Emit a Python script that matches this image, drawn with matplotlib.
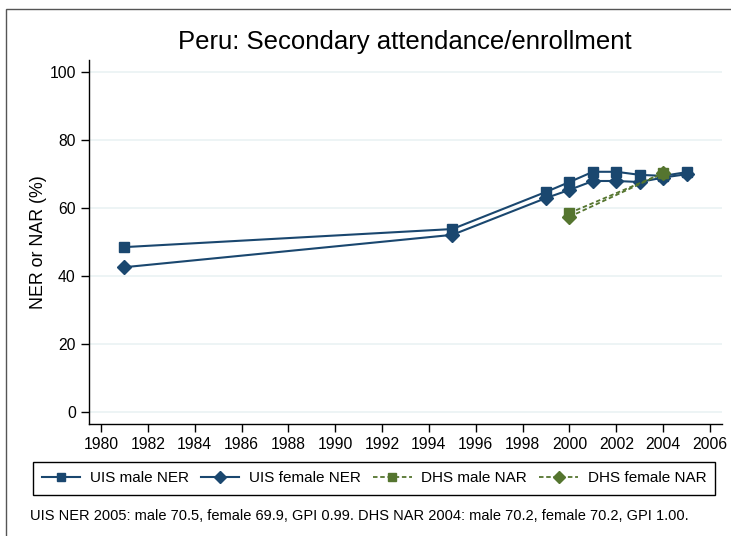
import matplotlib
matplotlib.use('Agg')
import matplotlib.pyplot as plt
from matplotlib.patches import Rectangle

matplotlib.rcParams['font.family'] = ['Liberation Sans', 'DejaVu Sans']

# data
uis_years = [1981, 1995, 1999, 2000, 2001, 2002, 2003, 2004, 2005]
uis_male = [48.5, 53.8, 64.7, 67.6, 70.6, 70.6, 69.7, 69.4, 70.5]
uis_female = [42.6, 52.1, 62.9, 65.3, 67.9, 67.9, 67.6, 68.9, 69.9]

dhs_years = [2000, 2004]
dhs_male = [58.5, 70.2]
dhs_female = [57.4, 70.2]

x_ticks = list(range(1980, 2007, 2))
y_ticks = [0, 20, 40, 60, 80, 100]

navy = '#1a476f'
green = '#55752f'

fig = plt.figure(figsize=(7.31, 5.36), dpi=100)
ax = fig.add_axes([89 / 731, 1 - 424 / 536, 633 / 731, 364 / 536])

# outer frame (only top/left visible in the original)
fig.patches.append(Rectangle((6 / 731, -0.05), 1.1, 1 - 9 / 536 + 0.05,
                             transform=fig.transFigure, fill=False,
                             edgecolor='#555555', linewidth=1.0))

ax.plot(uis_years, uis_male, color=navy, lw=1.5, marker='s', ms=7.5,
        label='UIS male NER')
ax.plot(uis_years, uis_female, color=navy, lw=1.5, marker='D', ms=7.5,
        label='UIS female NER')
ax.plot(dhs_years, dhs_male, color=green, lw=1.3, ls=(0, (2.5, 1.5)),
        marker='s', ms=7.5, label='DHS male NAR')
ax.plot(dhs_years, dhs_female, color=green, lw=1.3, ls=(0, (2.5, 1.5)),
        marker='D', ms=7.5, label='DHS female NAR')

ax.set_xlim(1979.49, 2006.51)
ax.set_ylim(-3.4, 103.4)
ax.set_xticks(x_ticks)
ax.set_yticks(y_ticks)
ax.tick_params(labelsize=11.3, length=6, width=1, colors='black')
ax.grid(axis='y', color='#eaf2f3', lw=1.2)
ax.set_axisbelow(True)
for s in ['top', 'right']:
    ax.spines[s].set_visible(False)
for s in ['left', 'bottom']:
    ax.spines[s].set_linewidth(1.0)

ax.set_ylabel('NER or NAR (%)', fontsize=12.8, labelpad=2)
fig.text(405 / 731, 1 - 42 / 536, 'Peru: Secondary attendance/enrollment',
         ha='center', va='center', fontsize=18.5)

leg = fig.legend(loc='center', ncol=4,
                 bbox_to_anchor=(374 / 731, 1 - 478.5 / 536),
                 fontsize=11, numpoints=1, handlelength=2.5,
                 markerscale=0.85,
                 fancybox=False, edgecolor='black', framealpha=1,
                 borderaxespad=0, borderpad=0.6, columnspacing=0.8,
                 handletextpad=0.65)
leg.get_frame().set_linewidth(1.0)

fig.text(30 / 731, 1 - 516 / 536,
         'UIS NER 2005: male 70.5, female 69.9, GPI 0.99. DHS NAR 2004: male 70.2, female 70.2, GPI 1.00.',
         ha='left', va='center', fontsize=10.5)

fig.savefig('out.png', dpi=100)
